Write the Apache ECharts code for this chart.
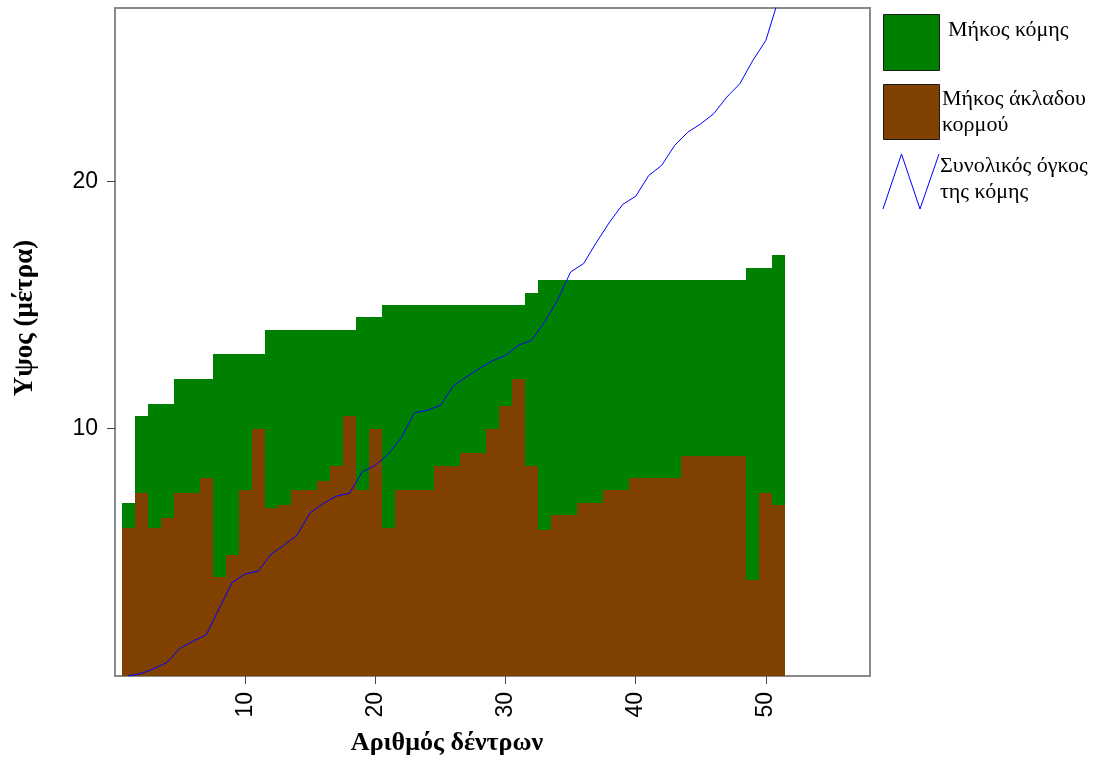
<!DOCTYPE html>
<html>
<head>
<meta charset="utf-8">
<script src="https://cdn.jsdelivr.net/npm/echarts@6/dist/echarts.min.js"></script>
<style>
  html, body { margin: 0; padding: 0; background: #ffffff; }
  #chart { width: 1095px; height: 758px; }
</style>
</head>
<body>
<div id="chart"></div>
<script>
// Tree number (x position of each bar and line vertex)
const trees = [
  1, 2, 3, 4, 5, 6, 7, 8, 9, 10,
  11, 12, 13, 14, 15, 16, 17, 18, 19, 20,
  21, 22, 23, 24, 25, 26, 27, 28, 29, 30,
  31, 32, 33, 34, 35, 36, 37, 38, 39, 40,
  41, 42, 43, 44, 45, 46, 47, 48, 49, 50, 51
];

// Clear bole length (m)
const trunkLength = [
  6.0, 7.4, 6.0, 6.4, 7.4, 7.4, 8.0, 4.0, 4.9, 7.5,
  10.0, 6.8, 6.9, 7.5, 7.5, 7.9, 8.5, 10.5, 7.5, 10.0,
  6.0, 7.5, 7.5, 7.5, 8.5, 8.5, 9.0, 9.0, 10.0, 10.9,
  12.0, 8.5, 5.9, 6.5, 6.5, 7.0, 7.0, 7.5, 7.5, 8.0,
  8.0, 8.0, 8.0, 8.9, 8.9, 8.9, 8.9, 8.9, 3.9, 7.4, 6.9
];

// Crown length (m), stacked on top of the clear bole
const crownLength = [
  1.0, 3.1, 5.0, 4.6, 4.6, 4.6, 4.0, 9.0, 8.1, 5.5,
  3.0, 7.2, 7.1, 6.5, 6.5, 6.1, 5.5, 3.5, 7.0, 4.5,
  9.0, 7.5, 7.5, 7.5, 6.5, 6.5, 6.0, 6.0, 5.0, 4.1,
  3.0, 7.0, 10.1, 9.5, 9.5, 9.0, 9.0, 8.5, 8.5, 8.0,
  8.0, 8.0, 8.0, 7.1, 7.1, 7.1, 7.1, 7.1, 12.6, 9.1, 10.1
];

// Cumulative crown volume
const crownVolume = [
  0.0, 0.1, 0.3, 0.55, 1.12, 1.41, 1.66, 2.72, 3.78, 4.13,
  4.24, 4.93, 5.29, 5.71, 6.6, 6.97, 7.27, 7.38, 8.25, 8.52,
  8.97, 9.64, 10.64, 10.74, 10.94, 11.73, 12.09, 12.43, 12.74, 12.96,
  13.37, 13.57, 14.31, 15.19, 16.33, 16.67, 17.54, 18.35, 19.06, 19.39,
  20.23, 20.64, 21.45, 21.98, 22.32, 22.73, 23.4, 23.94, 24.88, 25.69, 27.4
];

const xTicks = [10, 20, 30, 40, 50];
const yTicks = [10, 20];

const GREEN = '#008000';
const BROWN = '#804000';
const BLUE = '#0000ff';

// [tree, bottom, top] rows for the two bar layers
const trunkRows = trees.map((t, i) => [t, 0, trunkLength[i]]);
const crownRows = trees.map((t, i) => [t, trunkLength[i], trunkLength[i] + crownLength[i]]);
const volumeRows = trees.map((t, i) => [t, crownVolume[i]]);

// Each bar fills one unit of the x axis, centred on its tree number;
// edges are snapped to whole pixels so neighbouring bars meet without seams
function barRenderer(color) {
  return function (params, api) {
    const x = api.value(0);
    const lo = api.value(1);
    const hi = api.value(2);
    const p0 = api.coord([x - 0.5, hi]);
    const p1 = api.coord([x + 0.5, lo]);
    const x0 = Math.round(p0[0]), x1 = Math.round(p1[0]);
    const y0 = Math.round(p0[1]), y1 = Math.round(p1[1]);
    return {
      type: 'rect',
      shape: { x: x0, y: y0, width: x1 - x0, height: y1 - y0 },
      style: { fill: color }
    };
  };
}

const chart = echarts.init(document.getElementById('chart'), null, { renderer: 'canvas' });

const labelFont = { fontFamily: 'Liberation Sans, Arial, sans-serif', fontSize: 23, color: '#000' };
const serif = 'Liberation Serif, Times New Roman, serif';

chart.setOption({
  animation: false,
  backgroundColor: '#ffffff',
  grid: {
    left: 115, right: 225, top: 8, bottom: 82,
    show: true, borderColor: '#8a8a8a', borderWidth: 2, backgroundColor: 'transparent'
  },
  xAxis: {
    type: 'value', min: 0, max: 58, interval: 10,
    axisLine: { show: false },
    splitLine: { show: false },
    axisTick: { show: true, length: 8, customValues: xTicks, lineStyle: { color: '#444', width: 1 } },
    axisLabel: Object.assign({ rotate: 90, margin: 16, customValues: xTicks }, labelFont)
  },
  yAxis: {
    type: 'value', min: 0, max: 27,
    axisLine: { show: false },
    splitLine: { show: false },
    axisTick: { show: true, length: 8, customValues: yTicks, lineStyle: { color: '#444', width: 1 } },
    axisLabel: Object.assign({ margin: 17, customValues: yTicks }, labelFont)
  },
  series: [
    {
      name: 'Μήκος κόμης', type: 'custom', data: crownRows,
      encode: { x: 0, y: [1, 2] }, renderItem: barRenderer(GREEN), z: 2
    },
    {
      name: 'Μήκος άκλαδου κορμού', type: 'custom', data: trunkRows,
      encode: { x: 0, y: [1, 2] }, renderItem: barRenderer(BROWN), z: 3
    },
    {
      name: 'Συνολικός όγκος της κόμης', type: 'line', data: volumeRows,
      symbol: 'none', clip: true, z: 4,
      lineStyle: { color: BLUE, width: 1 }
    }
  ],
  graphic: [
    // axis titles
    {
      type: 'text', x: 25, y: 318, rotation: Math.PI / 2,
      style: {
        text: 'Υψος (μέτρα)', font: 'bold 27px ' + serif, fill: '#000',
        align: 'center', verticalAlign: 'middle'
      }
    },
    {
      type: 'text', x: 447, y: 743,
      style: {
        text: 'Αριθμός δέντρων', font: 'bold 26px ' + serif, fill: '#000',
        align: 'center', verticalAlign: 'middle'
      }
    },
    // legend
    {
      type: 'rect', shape: { x: 883.5, y: 14.5, width: 56, height: 56 },
      style: { fill: GREEN, stroke: '#1a1a1a', lineWidth: 1 }
    },
    {
      type: 'rect', shape: { x: 883.5, y: 84.5, width: 56, height: 55 },
      style: { fill: BROWN, stroke: '#1a1a1a', lineWidth: 1 }
    },
    {
      type: 'polyline', shape: { points: [[883, 209], [901.5, 154], [920, 209], [939, 154]] },
      style: { stroke: BLUE, lineWidth: 1, fill: null }
    },
    {
      type: 'text', x: 948, y: 30,
      style: { text: 'Μήκος κόμης', font: '22px ' + serif, fill: '#000', verticalAlign: 'middle' }
    },
    {
      type: 'text', x: 942, y: 112,
      style: {
        text: 'Μήκος άκλαδου\nκορμού', font: '22px ' + serif, fill: '#000',
        verticalAlign: 'middle', lineHeight: 26
      }
    },
    {
      type: 'text', x: 940, y: 179,
      style: {
        text: 'Συνολικός όγκος\nτης κόμης', font: '22px ' + serif, fill: '#000',
        verticalAlign: 'middle', lineHeight: 26
      }
    }
  ]
});
</script>
</body>
</html>
